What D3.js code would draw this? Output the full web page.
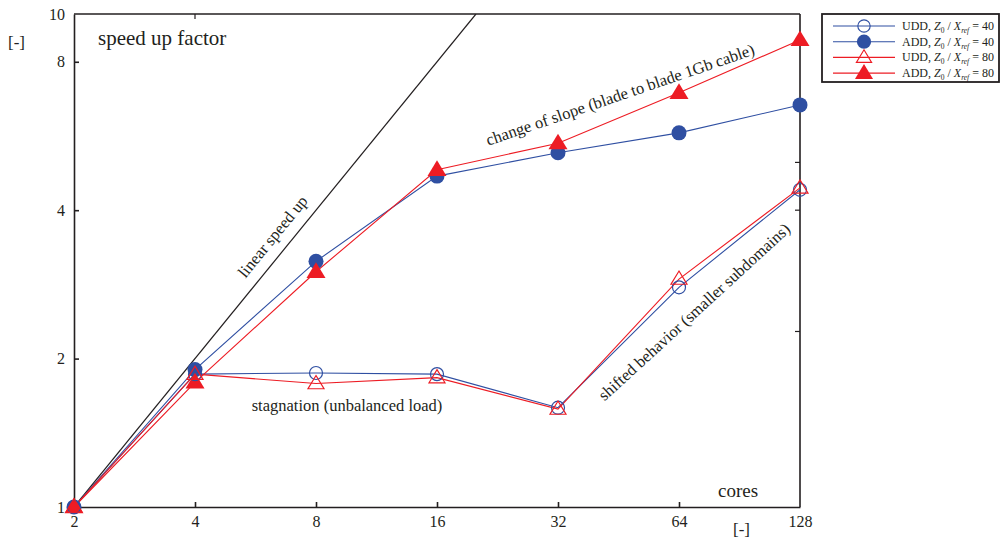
<!DOCTYPE html>
<html>
<head>
<meta charset="utf-8">
<script src="https://cdn.jsdelivr.net/npm/d3@7"></script>
<style>
  body { margin: 0; background: #fff; }
  svg text { font-family: "Liberation Serif", "Times New Roman", Times, "DejaVu Serif", serif !important; fill: #231f20; }
</style>
</head>
<body>
<div id="chart"></div>
<script>
// data
const cores = [2, 4, 8, 16, 32, 64, 128];
const udd40 = [1, 1.86, 1.87, 1.86, 1.59, 2.79, 4.40];
const add40 = [1, 1.90, 3.15, 4.69, 5.23, 5.74, 6.54];
const udd80 = [1, 1.86, 1.78, 1.83, 1.58, 2.90, 4.44];
const add80 = [1, 1.79, 3.00, 4.83, 5.47, 6.92, 8.86];
const linearCores = [2, 20];
const linearSpeed = [1, 10];
const xTicks = [2, 4, 8, 16, 32, 64, 128];
const yTicks = [1, 2, 4, 8, 10];
const topTicks = [4];
const rightTicks = [5, 4, 2.27];

const W = 1003, H = 542;
const blue = "#2f4fa2", red = "#ed1c24", ink = "#231f20";
const serif = "'Liberation Serif', 'Times New Roman', Times, 'DejaVu Serif', serif";

const svg = d3.select("#chart").append("svg")
    .attr("width", W).attr("height", H)
    .attr("font-family", serif);

const x = d3.scaleLog().base(2).domain([2, 128]).range([74, 800]);
const y = d3.scaleLog().domain([1, 10]).range([507, 14]);

// axes
const xAxis = svg.append("g")
    .attr("transform", `translate(0,${y(1)})`)
    .call(d3.axisBottom(x).tickValues(xTicks).tickFormat(d3.format("d"))
        .tickSize(-5).tickSizeOuter(0).tickPadding(9));
const yAxis = svg.append("g")
    .attr("transform", `translate(${x(2)},0)`)
    .call(d3.axisLeft(y).tickValues(yTicks).tickFormat(d3.format("d"))
        .tickSize(-5).tickSizeOuter(0).tickPadding(9));
[xAxis, yAxis].forEach(a => {
    a.attr("font-family", serif).attr("font-size", 16);
    a.selectAll("path, line").attr("stroke", ink).attr("stroke-width", 1.6);
    a.selectAll("text").attr("fill", ink);
});
xAxis.selectAll(".tick").filter(d => d === 2 || d === 128).select("line").remove();
yAxis.selectAll(".tick").filter(d => d === 1 || d === 10).select("line").remove();

// frame top and right
svg.append("line").attr("x1", x(2)).attr("x2", x(128)).attr("y1", y(10)).attr("y2", y(10))
    .attr("stroke", ink).attr("stroke-width", 1.6);
svg.append("line").attr("x1", x(128)).attr("x2", x(128)).attr("y1", y(10)).attr("y2", y(1))
    .attr("stroke", ink).attr("stroke-width", 1.6);
svg.selectAll(".tt").data(topTicks).join("line")
    .attr("x1", d => x(d)).attr("x2", d => x(d)).attr("y1", y(10)).attr("y2", y(10) + 5)
    .attr("stroke", ink).attr("stroke-width", 1.2);
svg.selectAll(".rt").data(rightTicks).join("line")
    .attr("x1", x(128)).attr("x2", x(128) - 5).attr("y1", d => y(d)).attr("y2", d => y(d))
    .attr("stroke", ink).attr("stroke-width", 1.2);

// clip for linear line
svg.append("clipPath").attr("id", "plot").append("rect")
    .attr("x", x(2)).attr("y", y(10)).attr("width", x(128) - x(2)).attr("height", y(1) - y(10));

const line = d3.line().x(d => x(d[0])).y(d => y(d[1]));

svg.append("path")
    .datum(d3.zip(linearCores, linearSpeed))
    .attr("d", line).attr("fill", "none").attr("stroke", ink).attr("stroke-width", 1.2)
    .attr("clip-path", "url(#plot)");

const series = [
    { vals: udd40, color: blue, marker: "circle", fill: false },
    { vals: add40, color: blue, marker: "circle", fill: true },
    { vals: udd80, color: red, marker: "triangle", fill: false },
    { vals: add80, color: red, marker: "triangle", fill: true }
];

function drawMarker(g, s) {
    if (s.marker === "circle") {
        g.append("circle").attr("r", s.fill ? 7.5 : 6.5)
            .attr("fill", s.fill ? s.color : "none")
            .attr("stroke", s.color).attr("stroke-width", s.fill ? 0 : 1.2);
    } else {
        const sz = s.fill ? 9.5 : 8;
        g.append("path")
            .attr("d", `M0,${-sz}L${sz},${sz * 0.65}L${-sz},${sz * 0.65}Z`)
            .attr("fill", s.fill ? s.color : "none")
            .attr("stroke", s.color).attr("stroke-width", s.fill ? 0 : 1.2);
    }
}

series.forEach(s => {
    svg.append("path")
        .datum(d3.zip(cores, s.vals))
        .attr("d", line).attr("fill", "none")
        .attr("stroke", s.color).attr("stroke-width", 1.1);
});
// markers: filled first, open on top
[series[1], series[3], series[0], series[2]].forEach(s => {
    d3.zip(cores, s.vals).forEach(p => {
        const g = svg.append("g").attr("transform", `translate(${x(p[0])},${y(p[1])})`);
        drawMarker(g, s);
    });
});

// labels
function label(txt, px, py, size, rot, anchor) {
    svg.append("text").text(txt)
        .attr("transform", `translate(${px},${py}) rotate(${rot || 0})`)
        .attr("text-anchor", anchor || "start")
        .attr("font-family", serif)
        .attr("font-size", size);
}
label("speed up factor", 98, 45, 21);
label("[-]", 8, 48, 17);
label("cores", 718, 497, 19);
label("[-]", 733, 535, 17);
label("linear speed up", 277, 240, 16.5, -50.8, "middle");
label("change of slope (blade to blade 1Gb cable)", 622, 100, 16.5, -18.9, "middle");
label("shifted behavior (smaller subdomains)", 698, 316, 16.5, -42.5, "middle");
label("stagnation (unbalanced load)", 347, 411, 16.5, 0, "middle");

// legend
const legend = svg.append("g");
legend.append("rect").attr("x", 822).attr("y", 14).attr("width", 177).attr("height", 68)
    .attr("fill", "#fff").attr("stroke", ink).attr("stroke-width", 1.8);
const legendVals = [40, 40, 80, 80];
const legendNames = ["UDD", "ADD", "UDD", "ADD"];
series.forEach((s, i) => {
    const ly = 26 + i * 15.7;
    legend.append("line").attr("x1", 833).attr("x2", 895).attr("y1", ly).attr("y2", ly)
        .attr("stroke", s.color).attr("stroke-width", 1.1);
    const g = legend.append("g").attr("transform", `translate(864,${ly}) scale(0.95)`);
    drawMarker(g, s);
    const t = legend.append("text").attr("x", 902).attr("y", ly + 4)
        .attr("font-family", serif).attr("font-size", 12);
    t.append("tspan").text(legendNames[i] + ", ");
    t.append("tspan").text("Z").attr("font-style", "italic");
    t.append("tspan").text("0").attr("font-size", 7.5).attr("dy", 3);
    t.append("tspan").text(" / ").attr("dy", -3);
    t.append("tspan").text("X").attr("font-style", "italic");
    t.append("tspan").text("ref").attr("font-size", 7.5).attr("font-style", "italic").attr("dy", 3);
    t.append("tspan").text(" = " + legendVals[i]).attr("dy", -3);
});
</script>
</body>
</html>
